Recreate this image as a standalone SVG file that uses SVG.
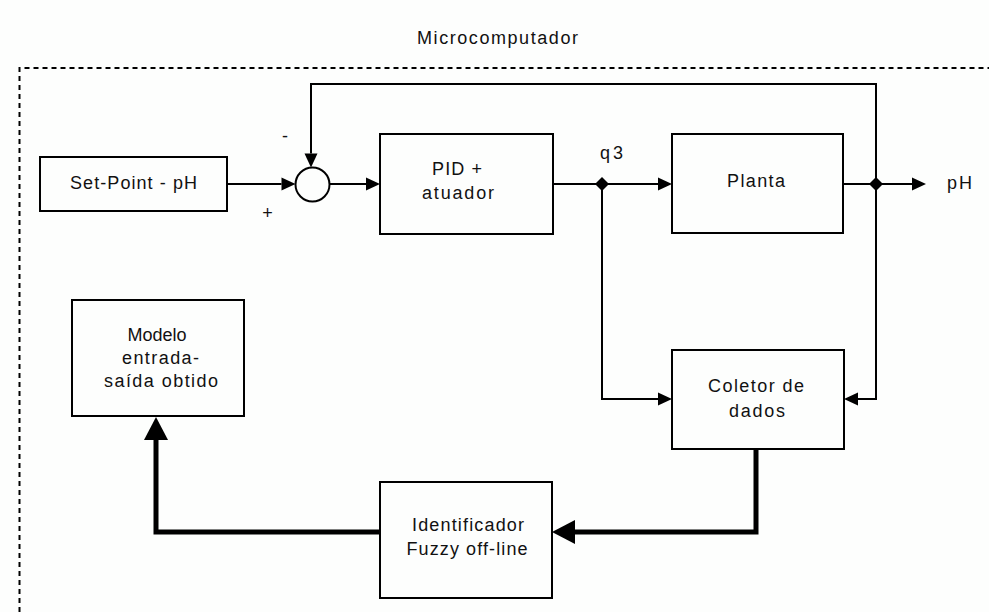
<svg xmlns="http://www.w3.org/2000/svg" width="989" height="612" viewBox="0 0 989 612">
<style>
.box{fill:none;stroke:#000;stroke-width:2}
.ln{fill:none;stroke:#000;stroke-width:2}
.thick{fill:none;stroke:#000;stroke-width:5}
.dash{fill:none;stroke:#000;stroke-width:2;stroke-dasharray:5 4}
text{font-family:"Liberation Sans",Arial,sans-serif;font-size:18px;fill:#111}
.c{text-anchor:middle}
</style>
<defs>
<marker id="a" markerUnits="userSpaceOnUse" markerWidth="14" markerHeight="13" refX="0" refY="6.5" orient="auto" overflow="visible"><path d="M0,0 L14,6.5 L0,13 z" fill="#000"/></marker>
<marker id="A" markerUnits="userSpaceOnUse" markerWidth="23" markerHeight="24" refX="0" refY="12" orient="auto" overflow="visible"><path d="M0,0 L23,12 L0,24 z" fill="#000"/></marker>
</defs>
<rect width="989" height="612" fill="#fdfefd"/>
<g id="microcomputador">
<path class="dash" d="M19.5,612 V68 H989"/>
<text class="c" x="497.5" y="44" textLength="161" lengthAdjust="spacing">Microcomputador</text>
</g>
<g id="connectors">
<path class="ln" d="M227,184 H281.5" marker-end="url(#a)"/>
<path class="ln" d="M329.5,184 H366" marker-end="url(#a)"/>
<path class="ln" d="M876,184 V84 H311 V153.5" marker-end="url(#a)"/>
<path class="ln" d="M553,184 H658" marker-end="url(#a)"/>
<path class="ln" d="M843,184 H912" marker-end="url(#a)"/>
<path class="ln" d="M602,184 V399 H658" marker-end="url(#a)"/>
<path class="ln" d="M876,184 V399 H858" marker-end="url(#a)"/>
<path class="thick" d="M756,449 V532 H575" marker-end="url(#A)"/>
<path class="thick" d="M380,532 H156 V440" marker-end="url(#A)"/>
<path d="M602,177 L609,184 L602,191 L595,184 z" fill="#000"/>
<path d="M876,177 L883,184 L876,191 L869,184 z" fill="#000"/>
<text x="285" y="141.5" class="c">-</text>
<text x="267.5" y="219" class="c">+</text>
<text x="600" y="159" textLength="23" lengthAdjust="spacing">q3</text>
<text x="947" y="189" textLength="25" lengthAdjust="spacing">pH</text>
</g>
<g id="setpoint">
<rect class="box" x="40" y="157" width="187" height="54"/>
<text class="c" x="133.5" y="189" textLength="127" lengthAdjust="spacing">Set-Point - pH</text>
</g>
<g id="somador">
<circle class="box" cx="312.5" cy="184.5" r="17"/>
</g>
<g id="pid">
<rect class="box" x="380" y="134" width="173" height="100"/>
<text class="c" x="457" y="175" textLength="50" lengthAdjust="spacing">PID +</text>
<text class="c" x="458" y="199" textLength="72" lengthAdjust="spacing">atuador</text>
</g>
<g id="planta">
<rect class="box" x="672" y="134" width="171" height="99"/>
<text class="c" x="756" y="187" textLength="58" lengthAdjust="spacing">Planta</text>
</g>
<g id="coletor">
<rect class="box" x="672" y="350" width="172" height="99"/>
<text class="c" x="756" y="392" textLength="96" lengthAdjust="spacing">Coletor de</text>
<text class="c" x="757" y="417" textLength="56" lengthAdjust="spacing">dados</text>
</g>
<g id="identificador">
<rect class="box" x="380" y="482" width="172" height="116"/>
<text class="c" x="468" y="531" textLength="112" lengthAdjust="spacing">Identificador</text>
<text class="c" x="467" y="555" textLength="121" lengthAdjust="spacing">Fuzzy off-line</text>
</g>
<g id="modelo">
<rect class="box" x="72" y="300" width="172" height="116"/>
<text class="c" x="157" y="341">Modelo</text>
<text class="c" x="160.5" y="364" textLength="77" lengthAdjust="spacing">entrada-</text>
<text class="c" x="161" y="387" textLength="114" lengthAdjust="spacing">saída obtido</text>
</g>
</svg>
